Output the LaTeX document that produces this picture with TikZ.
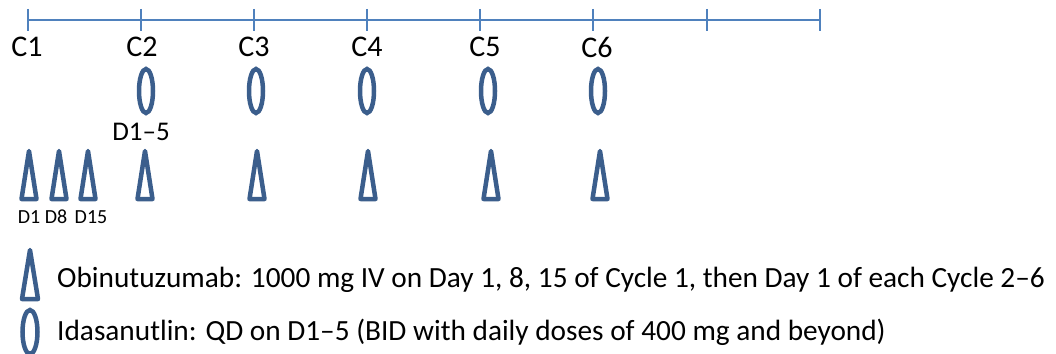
\documentclass[tikz,border=0pt]{standalone}
\usepackage{fontspec}
\setmainfont{Carlito}
\definecolor{axisblue}{HTML}{4F81BD}
\definecolor{shapeblue}{HTML}{3B5E8C}
\begin{document}
\begin{tikzpicture}[x=1pt,y=-1pt,
  tri/.pic={\draw[shapeblue,line width=4.5pt,line join=round] (0,-24) -- (7.5,24) -- (-7.5,24) -- cycle;},
  bigtri/.pic={\draw[shapeblue,line width=4.5pt,line join=round] (0,-24.5) -- (8,24.5) -- (-8,24.5) -- cycle;},
  oval/.pic={\draw[shapeblue,line width=4.5pt] (0,0) ellipse [x radius=7, y radius=22];},
  bigoval/.pic={\draw[shapeblue,line width=4.5pt] (0,0) ellipse [x radius=7.5, y radius=22];},
  cyc/.style={font=\fontsize{30}{34}\selectfont, inner sep=0pt},
  dlab/.style={font=\fontsize{20}{24}\selectfont, inner sep=0pt},
  legtext/.style={font=\fontsize{29.3}{33}\selectfont, inner sep=0pt, anchor=base west},
  tick/.style={axisblue, line width=2.5pt}]
\useasboundingbox (0,0) rectangle (1056,353);
% timeline
\coordinate (t0) at (28,20);
\coordinate (t7) at (820,20);
\draw[tick] (t0) -- (t7);
\foreach \x in {28,141,254,367,480,593,707,820}
  \draw[tick] (\x,9) -- (\x,31);
% cycle labels
\node[cyc] (c1) at (27,47) {C1};
\node[cyc] (c2) at (142,47) {C2};
\node[cyc] (c3) at (254,47) {C3};
\node[cyc] (c4) at (367,47) {C4};
\node[cyc] (c5) at (485,47) {C5};
\node[cyc] (c6) at (597,47) {C6};
% idasanutlin
\foreach \x in {146,256,367,488,598}
  \pic at (\x,91) {oval};
\node[font=\fontsize{27}{30}\selectfont, inner sep=0pt] (d15a) at (141,132) {D1–5};
% obinutuzumab
\foreach \x in {29,59,88,145,257,368,491,600}
  \pic at (\x,175) {tri};
\node[dlab] (d1) at (29,217) {D1};
\node[dlab] (d8) at (56,217) {D8};
\node[dlab] (d15) at (91,217) {D15};
% legend
\pic at (30,274.5) {bigtri};
\pic at (30,332) {bigoval};
\node[legtext] (l1) at (57,287) {Obinutuzumab: 1000 mg IV on Day 1, 8, 15 of Cycle 1, then Day 1 of each Cycle 2–6};
\node[legtext] (l2) at (57,340) {Idasanutlin: QD on D1–5 (BID with daily doses of 400 mg and beyond)};
\end{tikzpicture}
\end{document}
